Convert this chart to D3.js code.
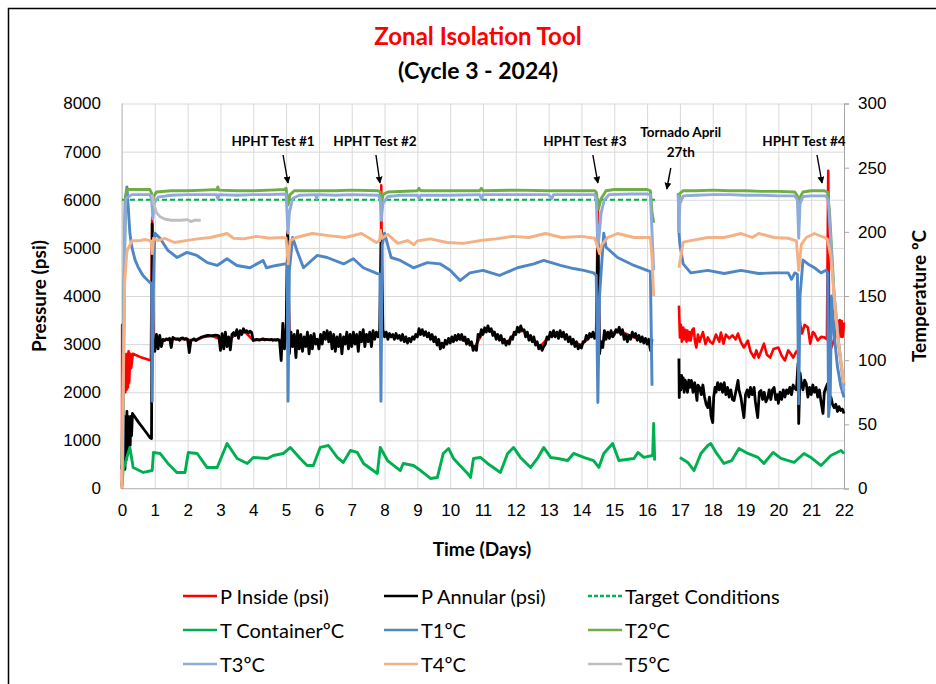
<!DOCTYPE html>
<html>
<head>
<meta charset="utf-8">
<script src="https://cdn.jsdelivr.net/npm/d3@7/dist/d3.min.js"></script>
<style>
  html, body { margin: 0; padding: 0; background: #ffffff; }
  svg { display: block; font-family: Lato, "Open Sans", "Liberation Sans", sans-serif; }
</style>
</head>
<body>
<svg id="chart" width="936" height="684"></svg>
<script>
// ---------- axis ticks ----------
const dayTicks = d3.range(0, 23);
const pressureTicks = [0, 1000, 2000, 3000, 4000, 5000, 6000, 7000, 8000];
const tempTicks = [0, 50, 100, 150, 200, 250, 300];

// ---------- pressure series (psi), [day, value]; null marks the data gap ----------
const pInsideStart = [
  [0.0, 0], [0.005, 3400], [0.02, 2300], [0.04, 2850], [0.06, 1975], [0.08, 2800], [0.10, 2000],
  [0.12, 2750], [0.14, 2050], [0.16, 2800], [0.18, 2100], [0.20, 2850], [0.22, 2200], [0.25, 2800],
  [0.28, 2500], [0.33, 2800], [0.60, 2720], [0.88, 2660], [0.92, 5630], [0.95, 3000]
];
const pInsideMain = [
  [1.0, 3050], [1.25, 3080], [1.5, 3100], [1.75, 3110], [2.0, 3090], [2.25, 3080], [2.5, 3150],
  [2.75, 3170], [3.0, 3100], [3.25, 3080], [3.5, 3220], [3.75, 3250], [4.0, 3080], [4.25, 3090],
  [4.5, 3090], [4.75, 3080], [5.0, 3100], [5.05, 5350], [5.1, 3050], [5.25, 3050], [5.5, 3030],
  [5.75, 3080], [6.0, 3060], [6.25, 3150], [6.5, 3020], [6.75, 3050], [7.0, 3080], [7.25, 3100],
  [7.5, 3120], [7.75, 3180], [7.88, 3250], [7.9, 6300], [7.93, 3250], [8.25, 3170], [8.5, 3130],
  [8.75, 3080], [9.0, 3200], [9.25, 3230], [9.5, 3080], [9.75, 2980], [10.0, 3080], [10.25, 3120],
  [10.5, 3050], [10.75, 2940], [11.0, 3250], [11.25, 3300], [11.5, 3120], [11.75, 3050], [12.0, 3250],
  [12.25, 3280], [12.5, 3080], [12.75, 2950], [13.0, 3150], [13.25, 3200], [13.5, 3150], [13.75, 3050],
  [14.0, 2980], [14.25, 3150], [14.45, 3180], [14.5, 6000], [14.55, 2950], [14.75, 3150], [15.0, 3250],
  [15.25, 3250], [15.5, 3170], [15.75, 3100], [16.0, 3050], [16.15, 3050], [16.5, null]
];
const pInsideEnd = [
  [16.97, 3800], [17.0, 3140], [17.03, 3400], [17.06, 3050], [17.1, 3345], [17.13, 3100], [17.16, 3300],
  [17.2, 3050], [17.23, 3280], [17.27, 3080], [17.3, 3250], [17.33, 3075], [17.38, 3300], [17.42, 3325],
  [17.46, 3050], [17.5, 2930], [17.55, 3200], [17.6, 3050], [17.7, 3250], [17.78, 3000], [17.85, 3140],
  [17.92, 3050], [18.0, 3010], [18.1, 3200], [18.2, 3050], [18.25, 3240], [18.33, 3010], [18.4, 3200],
  [18.5, 3120], [18.6, 3180], [18.7, 3100], [18.77, 3220], [18.85, 3050], [18.95, 2930], [19.07, 3075],
  [19.15, 2850], [19.26, 2720], [19.33, 2870], [19.4, 2720], [19.5, 2900], [19.56, 3010], [19.65, 2780],
  [19.75, 2720], [19.85, 2900], [20.0, 2930], [20.1, 2760], [20.2, 2660], [20.3, 2870], [20.38, 2800],
  [20.45, 2720], [20.55, 2850], [20.6, 2800], [20.63, 3660], [20.67, 3400], [20.72, 3220], [20.8, 3400],
  [20.9, 3345], [20.97, 3010], [21.05, 3250], [21.1, 3220], [21.2, 3075], [21.3, 3150], [21.4, 3140],
  [21.48, 3100], [21.52, 6600], [21.55, 2720], [21.6, 2900], [21.7, 3100], [21.75, 3490], [21.78, 3150],
  [21.81, 3480], [21.84, 3150], [21.87, 3500], [21.9, 3160], [21.93, 3480], [21.96, 3150], [22.0, 3450]
];

const pAnnularStart = [
  [0.0, 400], [0.03, 900], [0.05, 500], [0.07, 1500], [0.09, 400], [0.11, 1400], [0.13, 600],
  [0.15, 1600], [0.17, 700], [0.19, 1500], [0.21, 800], [0.23, 1450], [0.25, 900], [0.27, 1500],
  [0.29, 1100], [0.32, 1560], [0.5, 1380], [0.7, 1200], [0.85, 1060], [0.90, 1040], [0.92, 5500],
  [0.95, 3000]
];
// logger samples every 0.05 day from day 1.00 to day 16.15
const pAnnularSampleStart = 1.0;
const pAnnularSampleStep = 0.05;
const pAnnularSamples = [
  2850, 3200, 2900, 3180, 2950, 3100, 3075, 3110, 3090, 3120,
  2930, 3140, 3120, 3100, 3110, 3080, 3120, 3130, 3100, 3120,
  3100, 2826, 3080, 3090, 3110, 3075, 3100, 3120, 3140, 3150,
  3160, 3170, 3180, 3180, 3175, 3170, 3180, 3185, 3180, 3170,
  2870, 3220, 2900, 3250, 2950, 3150, 2880, 3200, 3240, 3180,
  3300, 3120, 3280, 3200, 3320, 3250, 3280, 3230, 3270, 3240,
  3075, 3090, 3100, 3095, 3085, 3100, 3110, 3090, 3100, 3095,
  3090, 3100, 3080, 3095, 3085, 3100, 3075, 2660, 3430, 2900,
  3250, 5300, 2800, 3250, 2950, 3200, 2720, 3280, 2900, 3200,
  2850, 3150, 2950, 3250, 2800, 3180, 2900, 3220, 3000, 3100,
  2900, 3200, 3000, 3250, 3100, 3280, 3050, 3250, 2900, 3200,
  2850, 3150, 2950, 3200, 2800, 3150, 3000, 3250, 2900, 3200,
  2950, 3250, 3000, 3200, 2850, 3250, 3050, 3300, 2950, 3200,
  3050, 3250, 2950, 3280, 3100, 3250, 3150, 3280, 5350, 3300,
  3150, 3250, 3100, 3220, 3150, 3200, 3100, 3220, 3120, 3180,
  3080, 3200, 3050, 3150, 3020, 3120, 3050, 3150, 3100, 3200,
  3150, 3320, 3200, 3300, 3180, 3260, 3150, 3230, 3100, 3200,
  3050, 3150, 2980, 3100, 2900, 3020, 2930, 3080, 3000, 3120,
  3020, 3150, 3050, 3180, 3080, 3200, 3100, 3200, 3080, 3150,
  3000, 3100, 2980, 3050, 2870, 2950, 2870, 3200, 3150, 3300,
  3200, 3340, 3250, 3380, 3260, 3320, 3180, 3250, 3100, 3200,
  3080, 3180, 3020, 3100, 2980, 3060, 3000, 3150, 3100, 3250,
  3200, 3350, 3250, 3380, 3280, 3300, 3150, 3250, 3080, 3180,
  3050, 3150, 2980, 3050, 2900, 2980, 2870, 2950, 3000, 3150,
  3100, 3250, 3150, 3280, 3150, 3250, 3120, 3280, 3150, 3250,
  3100, 3200, 3050, 3150, 3000, 3100, 2950, 3050, 2900, 2980,
  2920, 3050, 3050, 3180, 3100, 3220, 3150, 3250, 3120, 3250,
  5090, 2800, 3050, 2930, 3280, 3100, 3250, 3120, 3280, 3150,
  3200, 3300, 3250, 3350, 3200, 3300, 3100, 3200, 3050, 3180,
  3100, 3250, 3150, 3220, 3080, 3180, 3050, 3150, 3020, 3120,
  3000, 3100, 2870, 3100
];
const pAnnularEnd = [
  [16.97, 2700], [16.98, 1890], [17.0, 2300], [17.03, 2050], [17.05, 2350], [17.08, 2100], [17.1, 2300],
  [17.13, 2000], [17.16, 2250], [17.2, 2180], [17.23, 2000], [17.27, 2250], [17.3, 2100], [17.35, 2245],
  [17.4, 2000], [17.45, 2200], [17.48, 2035], [17.52, 1830], [17.55, 2150], [17.6, 2100], [17.65, 1950],
  [17.7, 2150], [17.75, 1900], [17.8, 1750], [17.85, 1680], [17.9, 1900], [17.95, 1500], [18.0, 1370],
  [18.03, 1900], [18.07, 2100], [18.1, 2000], [18.15, 2200], [18.2, 2050], [18.25, 2180], [18.3, 2000],
  [18.35, 2200], [18.4, 1950], [18.45, 2100], [18.5, 1900], [18.55, 2050], [18.6, 1850], [18.65, 1830],
  [18.7, 2000], [18.77, 2245], [18.8, 2050], [18.86, 1890], [18.9, 1700], [18.95, 1475], [19.0, 1950],
  [19.05, 2050], [19.1, 1900], [19.15, 2100], [19.2, 1950], [19.26, 2100], [19.3, 1800], [19.37, 1475],
  [19.42, 2000], [19.47, 2035], [19.52, 1850], [19.57, 2000], [19.62, 1800], [19.68, 1890], [19.72, 2050],
  [19.77, 1850], [19.82, 2050], [19.87, 2100], [19.92, 1850], [19.97, 1950], [20.0, 1770], [20.05, 2000],
  [20.1, 1850], [20.15, 2050], [20.2, 1900], [20.25, 2050], [20.3, 1975], [20.35, 2100], [20.4, 1950],
  [20.45, 2150], [20.48, 2100], [20.55, 2050], [20.6, 2600], [20.62, 1350], [20.66, 2400], [20.7, 2200],
  [20.75, 2050], [20.8, 2250], [20.85, 2180], [20.9, 1900], [20.95, 2100], [21.0, 1950], [21.05, 2150],
  [21.1, 2000], [21.15, 2100], [21.2, 1900], [21.25, 2050], [21.3, 1800], [21.36, 1560], [21.4, 2000],
  [21.45, 2100], [21.5, 2180], [21.55, 1700], [21.6, 1900], [21.65, 1750], [21.7, 1680], [21.75, 1750],
  [21.8, 1600], [21.85, 1700], [21.9, 1620], [21.95, 1650], [22.0, 1560]
];

const targetPressure = [[0, 6000], [16.25, 6000]];

// ---------- temperature series (ºC), [day, value] ----------
const tContainer = [
  [0.0, 2], [0.03, 14.0], [0.24, 32.0], [0.34, 16.4], [0.65, 12.5], [0.92, 14.0], [0.96, 28.1],
  [1.16, 27.3], [1.4, 19.5], [1.67, 12.5], [1.92, 12.5], [2.02, 28.1], [2.29, 27.3], [2.59, 16.4],
  [2.9, 16.4], [3.2, 35.1], [3.51, 23.4], [3.82, 19.5], [4.0, 24.2], [4.43, 23.4], [4.61, 25.7],
  [4.92, 27.3], [5.13, 32.0], [5.43, 23.4], [5.64, 17.9], [5.83, 17.9], [6.04, 32.0], [6.29, 33.5],
  [6.56, 24.2], [6.74, 20.3], [6.96, 29.6], [7.17, 28.1], [7.36, 19.5], [7.78, 11.7], [7.87, 32.0],
  [8.09, 21.8], [8.48, 14.0], [8.57, 19.5], [8.88, 17.9], [9.1, 14.0], [9.4, 7.8], [9.61, 8.6],
  [9.79, 27.3], [9.95, 31.2], [10.1, 23.4], [10.53, 11.7], [10.62, 8.6], [10.71, 23.4], [10.92, 24.2],
  [11.14, 19.5], [11.53, 12.5], [11.75, 27.3], [11.93, 32.0], [12.14, 24.2], [12.45, 16.4], [12.66, 23.4],
  [12.85, 32.0], [13.06, 24.2], [13.28, 23.4], [13.58, 21.8], [13.76, 27.3], [14.07, 24.2], [14.37, 21.8],
  [14.53, 16.4], [14.68, 27.3], [14.95, 35.1], [15.14, 21.8], [15.6, 23.4], [15.72, 28.1], [15.9, 24.2],
  [16.17, 25.7], [16.2, 50.6], [16.23, 21.8], [16.5, null],
  [17.0, 24.2], [17.24, 20.3], [17.43, 14.0], [17.64, 27.3], [17.85, 33.5], [17.94, 35.1], [18.1, 28.1],
  [18.34, 19.5], [18.58, 21.8], [18.8, 31.2], [19.07, 27.3], [19.38, 24.2], [19.56, 19.5], [19.84, 28.1],
  [20.08, 23.4], [20.48, 20.3], [20.78, 27.3], [20.99, 24.2], [21.3, 17.9], [21.6, 25.7], [21.91, 29.6],
  [22.0, 27.3]
];

const t1 = [
  [0, 15], [0.03, 25], [0.06, 150], [0.1, 225], [0.15, 235], [0.2, 215], [0.24, 199], [0.3, 188],
  [0.4, 178], [0.5, 172], [0.64, 166], [0.75, 163], [0.85, 160.5], [0.9, 160], [0.92, 68], [0.95, 150],
  [1.0, 199], [1.16, 195], [1.4, 185.5], [1.68, 180], [1.98, 184], [2.28, 181.6], [2.6, 176], [2.9, 173.8],
  [3.2, 179], [3.5, 173.8], [3.9, 172], [4.3, 177.7], [4.4, 172], [4.7, 173.8], [4.97, 175], [5.03, 175],
  [5.06, 68], [5.1, 170], [5.2, 195.6], [5.33, 185.5], [5.53, 172], [5.95, 181.6], [6.25, 180], [6.75, 175],
  [7.05, 179], [7.35, 172], [7.78, 167.5], [7.86, 167], [7.89, 68], [7.93, 190], [8.0, 199], [8.2, 180],
  [8.48, 177.7], [8.88, 172], [9.3, 176], [9.7, 175], [10.0, 170], [10.3, 162], [10.6, 168], [11.0, 170],
  [11.5, 166], [12.05, 172], [12.55, 175], [12.85, 177.7], [13.36, 173.8], [13.76, 171.4], [14.07, 170],
  [14.37, 168], [14.45, 166], [14.5, 67], [14.55, 150], [14.68, 199], [14.75, 188], [15.1, 180],
  [15.6, 173.8], [16.0, 170], [16.1, 169], [16.15, 80], [16.5, null],
  [16.95, 230], [16.97, 200], [17.0, 190], [17.1, 175], [17.33, 168], [17.85, 170], [18.35, 167.5],
  [18.86, 170], [19.4, 167.5], [19.87, 168], [20.3, 168], [20.4, 163], [20.5, 168], [20.58, 167],
  [20.62, 66], [20.66, 150], [20.75, 178], [20.9, 175], [21.1, 172], [21.3, 168], [21.45, 170], [21.5, 168],
  [21.53, 56], [21.58, 70], [21.62, 150], [21.7, 120], [21.8, 95], [21.9, 80], [22.0, 71]
];

const t2 = [
  [0, 20], [0.05, 120], [0.1, 225], [0.15, 233], [0.5, 233], [0.85, 233], [0.9, 230], [0.93, 222],
  [0.97, 228], [1.05, 231], [1.5, 232], [2.0, 232], [2.5, 232.5], [2.9, 233], [2.92, 235], [2.95, 232.5],
  [3.5, 232], [4.0, 232], [4.5, 232.5], [4.95, 233], [5.0, 234], [5.06, 221], [5.12, 229], [5.25, 232],
  [6.0, 232], [6.5, 232], [7.0, 232.5], [7.8, 232], [7.87, 231], [7.9, 219], [7.95, 229], [8.1, 231],
  [9.0, 232], [9.05, 234], [9.1, 232], [10.0, 232], [10.9, 232], [10.95, 234], [11.0, 232], [12.0, 232.5],
  [13.0, 232], [14.0, 232], [14.4, 232], [14.45, 231], [14.52, 218], [14.6, 226], [14.75, 232],
  [15.0, 233], [15.5, 233], [16.0, 233], [16.1, 232], [16.15, 215], [16.2, 207], [16.5, null],
  [16.97, 225], [17.0, 230], [17.1, 232], [17.5, 232], [18.0, 232.5], [18.5, 232], [19.0, 232],
  [19.5, 231.5], [20.0, 231.5], [20.5, 231], [20.58, 228], [20.63, 218], [20.68, 228], [20.75, 231],
  [21.0, 232], [21.4, 232], [21.5, 231], [21.56, 215], [21.7, 150], [21.85, 110], [22.0, 80]
];

const t3 = [
  [0, 20], [0.04, 100], [0.08, 200], [0.12, 226], [0.3, 229], [0.85, 229], [0.9, 226], [0.94, 210],
  [0.98, 222], [1.1, 227], [1.5, 228.5], [2.0, 229], [2.5, 229], [2.88, 229], [2.92, 226], [2.96, 229],
  [3.5, 228.5], [4.0, 229], [4.5, 229], [5.0, 229.5], [5.06, 199], [5.1, 215], [5.2, 226], [5.4, 228.5],
  [5.9, 229], [5.93, 226], [5.96, 229], [6.5, 228.5], [7.0, 229], [7.8, 228.5], [7.87, 226], [7.9, 209],
  [7.95, 222], [8.1, 227.5], [8.5, 228.5], [9.0, 228.5], [9.05, 226], [9.1, 228.5], [10.0, 228.5],
  [10.9, 229], [10.95, 226], [11.0, 229], [12.0, 229], [13.0, 229], [13.1, 226], [13.15, 229], [14.0, 229],
  [14.4, 229], [14.45, 226], [14.5, 188], [14.55, 200], [14.6, 215], [14.7, 225], [14.85, 229],
  [15.5, 229.5], [16.0, 229.5], [16.1, 229], [16.15, 200], [16.2, 170], [16.5, null],
  [16.95, 229], [16.97, 200], [17.0, 222], [17.1, 228], [17.5, 228.5], [18.0, 229], [18.5, 229],
  [19.0, 228.5], [19.5, 228.5], [20.0, 228], [20.5, 228], [20.58, 225], [20.62, 195], [20.66, 222],
  [20.75, 227.5], [21.0, 228], [21.45, 228], [21.52, 225], [21.58, 200], [21.7, 150], [21.85, 110], [22.0, 76]
];

const t4 = [
  [0, 0], [0.03, 60], [0.08, 160], [0.15, 185], [0.3, 193], [0.5, 193], [0.7, 194], [0.88, 193],
  [0.92, 183], [0.96, 195], [1.1, 193.2], [1.3, 195], [1.6, 191.7], [1.9, 193], [2.3, 194.5], [2.7, 195.6],
  [3.2, 198.7], [3.4, 195], [3.7, 194.5], [4.1, 196.5], [4.5, 195], [4.9, 195.6], [5.0, 195], [5.06, 175],
  [5.12, 193], [5.3, 195.6], [5.8, 198.7], [6.3, 197], [6.8, 195.6], [7.3, 198.7], [7.75, 191.7],
  [7.85, 193], [7.88, 201], [7.92, 195], [8.1, 198], [8.4, 191], [8.7, 193.2], [8.9, 190], [9.0, 193],
  [9.4, 194.5], [9.9, 191.7], [10.4, 191], [10.9, 193.2], [11.4, 194.5], [11.9, 196.5], [12.4, 195.6],
  [12.9, 198.7], [13.4, 195.6], [14.0, 196.5], [14.4, 195], [14.47, 190], [14.55, 183], [14.62, 190],
  [14.8, 195.6], [15.1, 198.7], [15.6, 195.6], [16.1, 195.6], [16.15, 180], [16.2, 150], [16.5, null],
  [16.97, 172], [17.1, 192], [17.33, 193.2], [17.85, 195.6], [18.35, 195.6], [18.86, 198.7], [19.2, 195.6],
  [19.4, 198.7], [19.87, 195.6], [20.3, 195], [20.55, 193], [20.62, 170], [20.7, 190], [20.85, 195.6],
  [21.1, 198.7], [21.4, 195.6], [21.5, 194], [21.6, 180], [21.7, 150], [21.8, 120], [21.9, 100], [22.0, 82]
];

const t5 = [
  [0.92, 229], [0.97, 222], [1.05, 215], [1.15, 212], [1.3, 210], [1.5, 209], [1.8, 209], [2.0, 209.5],
  [2.1, 208], [2.2, 209], [2.4, 209]
];

// ---------- event notes: label lines, day, offsets for text and arrow ----------
const eventNotes = [
  { lines: ["HPHT Test #1"], day: 5.06, textDx: -15, tailDx: -5 },
  { lines: ["HPHT Test #2"], day: 7.86, textDx: -5, tailDx: -4 },
  { lines: ["HPHT Test #3"], day: 14.5, textDx: -13, tailDx: -5 },
  { lines: ["Tornado April", "27th"], day: 16.6, textDx: 14, tailDx: 4 },
  { lines: ["HPHT Test #4"], day: 21.33, textDx: -18, tailDx: -5 }
];

// ---------- layout ----------
const W = 936, H = 684;
const plot = { left: 122, right: 844, top: 103.5, bottom: 488.5 };

const svg = d3.select("#chart");

const x = d3.scaleLinear().domain([0, 22]).range([plot.left, plot.right]);
const yP = d3.scaleLinear().domain([0, 8000]).range([plot.bottom, plot.top]);
const yT = d3.scaleLinear().domain([0, 300]).range([plot.bottom, plot.top]);

// outer frame
svg.append("path")
  .attr("d", `M8.5,${H} V8.5 H${W}`)
  .attr("fill", "none").attr("stroke", "#000").attr("stroke-width", 1.5);

// titles
svg.append("text").attr("x", 478).attr("y", 35).attr("text-anchor", "middle")
  .attr("dominant-baseline", "central")
  .style("font-size", "24px").style("font-weight", 700).attr("fill", "#ff0000")
  .text("Zonal Isolation Tool");
svg.append("text").attr("x", 478).attr("y", 70).attr("text-anchor", "middle")
  .attr("dominant-baseline", "central")
  .style("font-size", "23px").style("font-weight", 700).attr("fill", "#000")
  .text("(Cycle 3 - 2024)");

// gridlines
const grid = svg.append("g");
grid.append("g").attr("transform", `translate(0,${plot.bottom})`)
  .call(d3.axisBottom(x).tickValues(dayTicks).tickSize(-(plot.bottom - plot.top)).tickFormat(""))
  .call(g => g.select(".domain").remove())
  .call(g => g.selectAll("line").attr("stroke", "#d9d9d9").attr("stroke-width", 1));
grid.append("g").attr("transform", `translate(${plot.left},0)`)
  .call(d3.axisLeft(yP).tickValues(pressureTicks).tickSize(-(plot.right - plot.left)).tickFormat(""))
  .call(g => g.select(".domain").remove())
  .call(g => g.selectAll("line").attr("stroke", "#d9d9d9").attr("stroke-width", 1));

// axis lines
svg.append("line").attr("x1", plot.left).attr("x2", plot.left)
  .attr("y1", plot.top).attr("y2", plot.bottom).attr("stroke", "#bfbfbf");
svg.append("line").attr("x1", plot.left).attr("x2", plot.right)
  .attr("y1", plot.bottom).attr("y2", plot.bottom).attr("stroke", "#bfbfbf");

// tick labels
const tickFont = "17px";
svg.append("g").attr("transform", `translate(${plot.left},0)`)
  .call(d3.axisLeft(yP).tickValues(pressureTicks).tickSize(0).tickPadding(21).tickFormat(d3.format("d")))
  .call(g => g.select(".domain").remove())
  .call(g => g.selectAll("text").style("font-size", tickFont).style("font-family", null).attr("fill", "#000"));

svg.append("g").attr("transform", `translate(${plot.right},0)`)
  .call(d3.axisRight(yT).tickValues(tempTicks).tickSize(5).tickPadding(9))
  .call(g => g.select(".domain").attr("stroke", "#a6a6a6"))
  .call(g => g.selectAll("line").attr("stroke", "#a6a6a6"))
  .call(g => g.selectAll("text").style("font-size", tickFont).style("font-family", null).attr("fill", "#000"));

svg.append("g").attr("transform", `translate(0,${plot.bottom})`)
  .call(d3.axisBottom(x).tickValues(dayTicks).tickSize(0).tickPadding(15))
  .call(g => g.select(".domain").remove())
  .call(g => g.selectAll("text").style("font-size", tickFont).style("font-family", null).attr("fill", "#000"));

// axis titles
svg.append("text").attr("transform", "translate(38,296) rotate(-90)")
  .attr("text-anchor", "middle").attr("dominant-baseline", "central")
  .style("font-size", "19px").style("font-weight", 700).text("Pressure (psi)");
svg.append("text").attr("transform", "translate(918,296) rotate(-90)")
  .attr("text-anchor", "middle").attr("dominant-baseline", "central")
  .style("font-size", "19px").style("font-weight", 700).text("Temperature ºC");
svg.append("text").attr("x", 482).attr("y", 548).attr("text-anchor", "middle")
  .attr("dominant-baseline", "central")
  .style("font-size", "19px").style("font-weight", 700).text("Time (Days)");

// series
const lineP = d3.line().defined(d => d[1] != null).x(d => x(d[0])).y(d => yP(d[1]));
const lineT = d3.line().defined(d => d[1] != null).x(d => x(d[0])).y(d => yT(d[1]));

const pAnnularMid = pAnnularSamples.map((v, i) => [pAnnularSampleStart + i * pAnnularSampleStep, v]);
const pInside = pInsideStart.concat(pInsideMain, pInsideEnd);
const pAnnular = pAnnularStart.concat(pAnnularMid, [[16.5, null]], pAnnularEnd);

const marks = svg.append("g").attr("fill", "none").attr("stroke-linejoin", "round");

marks.append("path").datum(pInside).attr("d", lineP).attr("stroke", "#ff0000").attr("stroke-width", 2.6);
marks.append("path").datum(pAnnular).attr("d", lineP).attr("stroke", "#000000").attr("stroke-width", 2.8);
marks.append("path").datum(targetPressure).attr("d", lineP).attr("stroke", "#00b050")
  .attr("stroke-width", 2.2).attr("stroke-dasharray", "5,3");

const tempSeries = [
  { data: tContainer, color: "#00b050" },
  { data: t1, color: "#4f86c6" },
  { data: t2, color: "#70ad47" },
  { data: t3, color: "#8faadc" },
  { data: t4, color: "#f4b183" },
  { data: t5, color: "#bfbfbf" }
];
tempSeries.forEach(s => {
  marks.append("path").datum(s.data).attr("d", lineT).attr("stroke", s.color).attr("stroke-width", 2.9);
});

// event notes with arrows
svg.append("defs").append("marker")
  .attr("id", "arrowHead").attr("viewBox", "0 0 10 10").attr("refX", 9).attr("refY", 5)
  .attr("markerWidth", 5).attr("markerHeight", 5).attr("orient", "auto")
  .append("path").attr("d", "M0,0 L10,5 L0,10 z").attr("fill", "#000");

const notes = svg.append("g");
eventNotes.forEach(n => {
  const cx = x(n.day);
  const twoLine = n.lines.length > 1;
  const textTop = twoLine ? 132 : 141;
  n.lines.forEach((t, i) => {
    notes.append("text").attr("x", cx + n.textDx).attr("y", textTop + i * 20)
      .attr("text-anchor", "middle").attr("dominant-baseline", "central")
      .style("font-size", "13.5px").style("font-weight", 700).text(t);
  });
  const tailY = twoLine ? 168 : 155;
  const tipY = twoLine ? 189 : 183;
  notes.append("line")
    .attr("x1", cx + n.tailDx).attr("y1", tailY).attr("x2", cx).attr("y2", tipY)
    .attr("stroke", "#000").attr("stroke-width", 1.4).attr("marker-end", "url(#arrowHead)");
});

// legend
const legendItems = [
  { name: "P Inside (psi)", color: "#ff0000", dash: null },
  { name: "P Annular (psi)", color: "#000000", dash: null },
  { name: "Target Conditions", color: "#00b050", dash: "4,2" },
  { name: "T ContainerºC", color: "#00b050", dash: null },
  { name: "T1ºC", color: "#4f86c6", dash: null },
  { name: "T2ºC", color: "#70ad47", dash: null },
  { name: "T3ºC", color: "#8faadc", dash: null },
  { name: "T4ºC", color: "#f4b183", dash: null },
  { name: "T5ºC", color: "#bfbfbf", dash: null }
];
const legendCols = [183, 384, 588];
const legendRows = [596, 630, 664];
const legend = svg.append("g");
legendItems.forEach((item, i) => {
  const lx = legendCols[i % 3], ly = legendRows[Math.floor(i / 3)];
  legend.append("line").attr("x1", lx).attr("x2", lx + 34).attr("y1", ly).attr("y2", ly)
    .attr("stroke", item.color).attr("stroke-width", 2.6)
    .attr("stroke-dasharray", item.dash);
  legend.append("text").attr("x", lx + 37).attr("y", ly).attr("dominant-baseline", "central")
    .style("font-size", "20px").text(item.name);
});
</script>
</body>
</html>
